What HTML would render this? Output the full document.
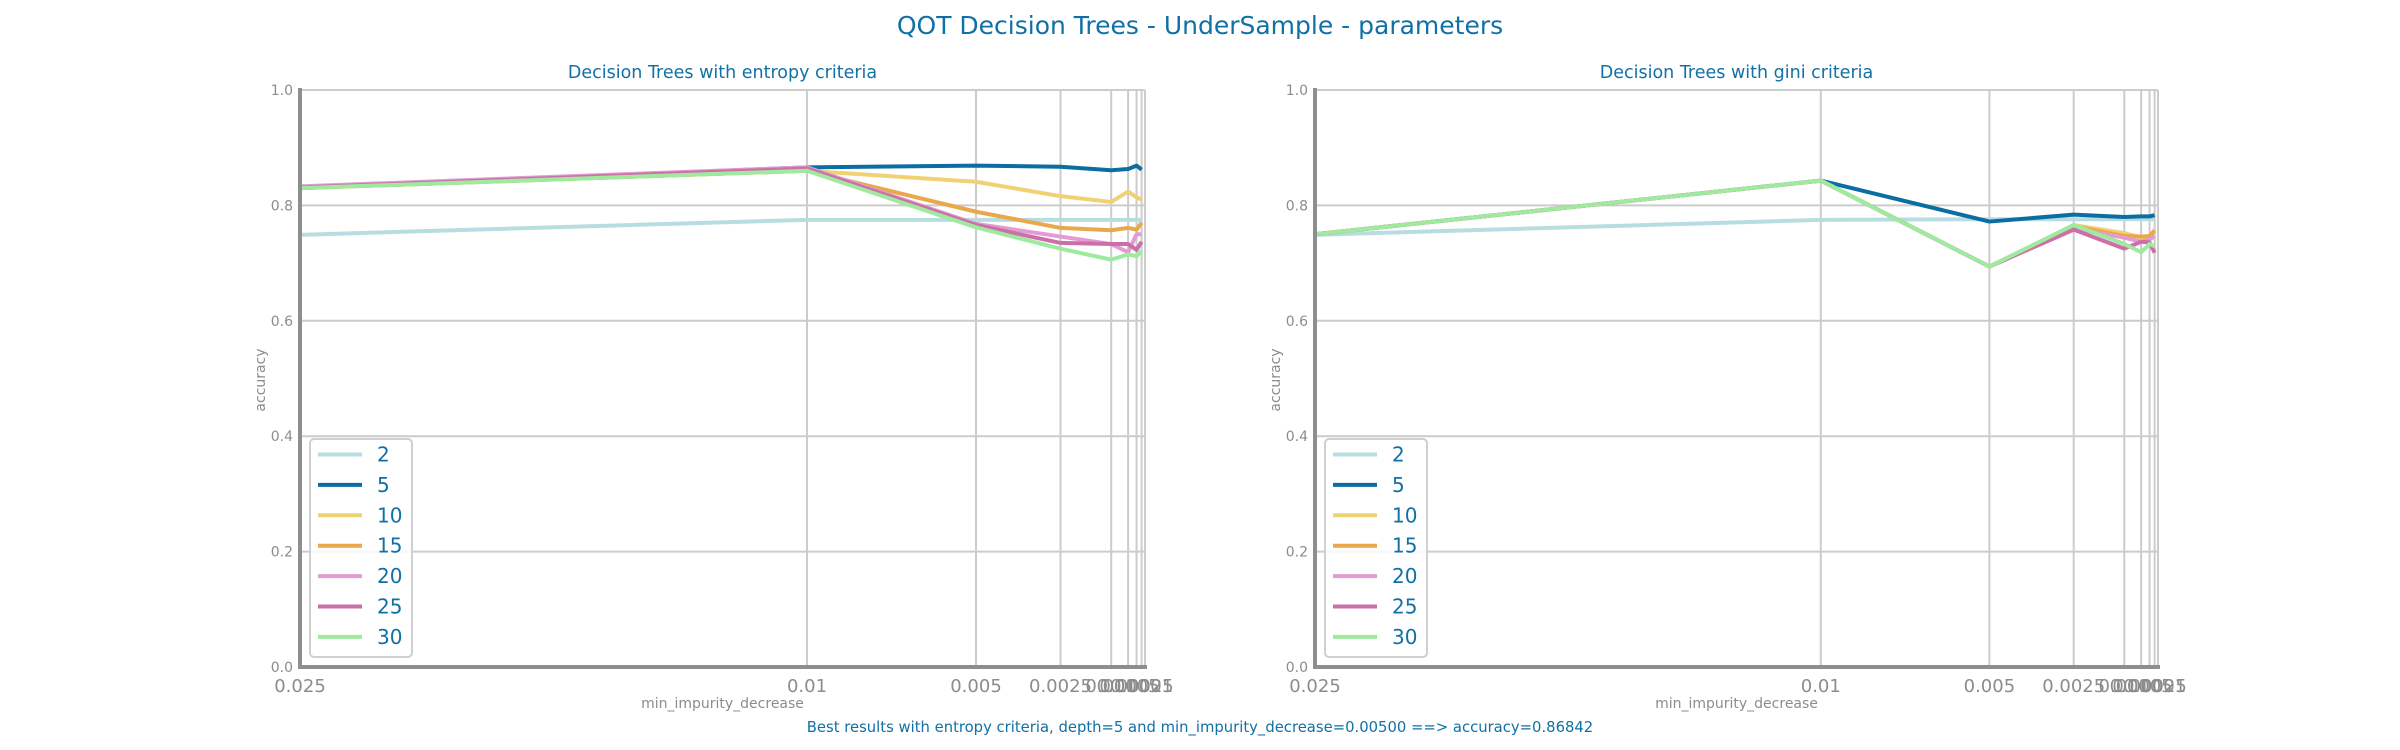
<!DOCTYPE html>
<html><head><meta charset="utf-8"><style>
html,body{margin:0;padding:0;background:#fff;}
svg{display:block;font-family:"DejaVu Sans","Liberation Sans",sans-serif;}
</style></head><body>
<svg id="fig" width="2400" height="750" viewBox="0 0 2400 750" xmlns="http://www.w3.org/2000/svg">
<text x="1200" y="34" font-size="25" fill="#1170a6" text-anchor="middle">QOT Decision Trees - UnderSample - parameters</text>
<text x="1200" y="732" font-size="14.8" fill="#1170a6" text-anchor="middle">Best results with entropy criteria, depth=5 and min_impurity_decrease=0.00500 ==&gt; accuracy=0.86842</text>
</svg>
<script>
const xValues = [0.025, 0.01, 0.005, 0.0025, 0.001, 0.0005, 0.00025, 0.0001];
const xTickLabels = ["0.025","0.01","0.005","0.0025","0.001","0.0005","0.00025","0.0001"];
const yTicks = [0, 0.2, 0.4, 0.6, 0.8, 1.0];
const yTickLabels = ["0.0","0.2","0.4","0.6","0.8","1.0"];
const depths = ["2","5","10","15","20","25","30"];
const entropy2  = [0.749,0.775,0.775,0.775,0.775,0.775,0.775,0.775];
const entropy5  = [0.830,0.866,0.869,0.867,0.861,0.863,0.869,0.862];
const entropy10 = [0.830,0.860,0.841,0.816,0.806,0.824,0.814,0.810];
const entropy15 = [0.830,0.860,0.789,0.761,0.757,0.761,0.758,0.770];
const entropy20 = [0.833,0.866,0.768,0.746,0.733,0.719,0.750,0.750];
const entropy25 = [0.831,0.864,0.766,0.735,0.733,0.733,0.723,0.737];
const entropy30 = [0.830,0.860,0.762,0.725,0.706,0.715,0.712,0.721];
const gini2  = [0.749,0.775,0.776,0.776,0.776,0.776,0.776,0.776];
const gini5  = [0.750,0.843,0.772,0.784,0.780,0.781,0.781,0.783];
const gini10 = [0.750,0.843,0.694,0.766,0.752,0.744,0.746,0.758];
const gini15 = [0.750,0.843,0.694,0.764,0.747,0.746,0.747,0.756];
const gini20 = [0.750,0.843,0.694,0.760,0.744,0.737,0.741,0.747];
const gini25 = [0.750,0.843,0.694,0.758,0.725,0.737,0.736,0.718];
const gini30 = [0.750,0.843,0.694,0.766,0.733,0.719,0.733,0.729];

const colors = ["#b7dde0","#0b6ea3","#f0d274","#e8a84b","#e39bd2","#cc6fa8","#9eea9e"];
const NS = "http://www.w3.org/2000/svg";
const fig = document.getElementById("fig");
function mk(tag, attrs, parent){const e=document.createElementNS(NS,tag);for(const k in attrs)e.setAttribute(k,attrs[k]);(parent||fig).appendChild(e);return e;}

function drawPanel(key, title, x0, x1, series){
  const y0=667, y1=90;
  const xs = v => x0 + (0.025 - v)/0.025*(x1-x0);
  const ys = v => y0 - v*(y0-y1);
  const g = mk("g",{});
  
  
  yTicks.forEach((t,i)=>{
    const l=mk("line",{x1:x0,x2:x1,y1:ys(t),y2:ys(t),stroke:"#cccccc","stroke-width":2},g);
    
    
    const tx=mk("text",{x:x0-7,y:ys(t)+5,"font-size":14,fill:"#8c8c8c","text-anchor":"end"},g);
    tx.textContent=yTickLabels[i];
    
    
  });
  xValues.forEach((v,i)=>{
    const l=mk("line",{x1:xs(v),x2:xs(v),y1:y1,y2:y0,stroke:"#cccccc","stroke-width":2},g);
    
    
    const tx=mk("text",{x:xs(v),y:692,"font-size":18,fill:"#8c8c8c","text-anchor":"middle"},g);
    tx.textContent=xTickLabels[i];
    
    
  });
  const rg=mk("line",{x1:x1,x2:x1,y1:y1,y2:y0,stroke:"#cccccc","stroke-width":2},g);
  
  
  series.forEach((vals,si)=>{
    const p=mk("polyline",{points:vals.map((v,i)=>xs(xValues[i])+","+ys(v)).join(" "),fill:"none",stroke:colors[si],"stroke-width":4,"stroke-linejoin":"round"},g);
    
    
  });
  const ls=mk("line",{x1:x0,x2:x0,y1:y1-2,y2:y0+2,stroke:"#8e8e8e","stroke-width":4},g);
  
  
  const bs=mk("line",{x1:x0-2,x2:x1+2,y1:y0,y2:y0,stroke:"#8e8e8e","stroke-width":4},g);
  
  
  const t=mk("text",{x:(x0+x1)/2,y:78,"font-size":17.5,fill:"#1170a6","text-anchor":"middle"},g);
  t.textContent=title;
  
  
  const xl=mk("text",{x:(x0+x1)/2,y:708,"font-size":14,fill:"#8c8c8c","text-anchor":"middle"},g);
  xl.textContent="min_impurity_decrease";
  
  
  const yl=mk("text",{x:0,y:0,"font-size":14,fill:"#8c8c8c","text-anchor":"middle",transform:"translate("+(x0-35)+",380) rotate(-90)"},g);
  yl.textContent="accuracy";
  
  
  const lg=mk("g",{},g);
  
  
  mk("rect",{x:x0+10,y:439,width:102,height:218,rx:4,fill:"#fff","fill-opacity":0.85,stroke:"#d0d0d0","stroke-width":2},lg);
  depths.forEach((d,i)=>{
    const yy=454.5+i*30.4;
    const e=mk("g",{},lg);
    
    
    mk("line",{x1:x0+18,x2:x0+62,y1:yy,y2:yy,stroke:colors[i],"stroke-width":4},e);
    const tx=mk("text",{x:x0+77,y:yy+7,"font-size":20,fill:"#1170a6"},e);
    tx.textContent=d;
  });
}
drawPanel("entropy","Decision Trees with entropy criteria",300,1145,[entropy2,entropy5,entropy10,entropy15,entropy20,entropy25,entropy30]);
drawPanel("gini","Decision Trees with gini criteria",1315,2158,[gini2,gini5,gini10,gini15,gini20,gini25,gini30]);
</script>
</body></html>
